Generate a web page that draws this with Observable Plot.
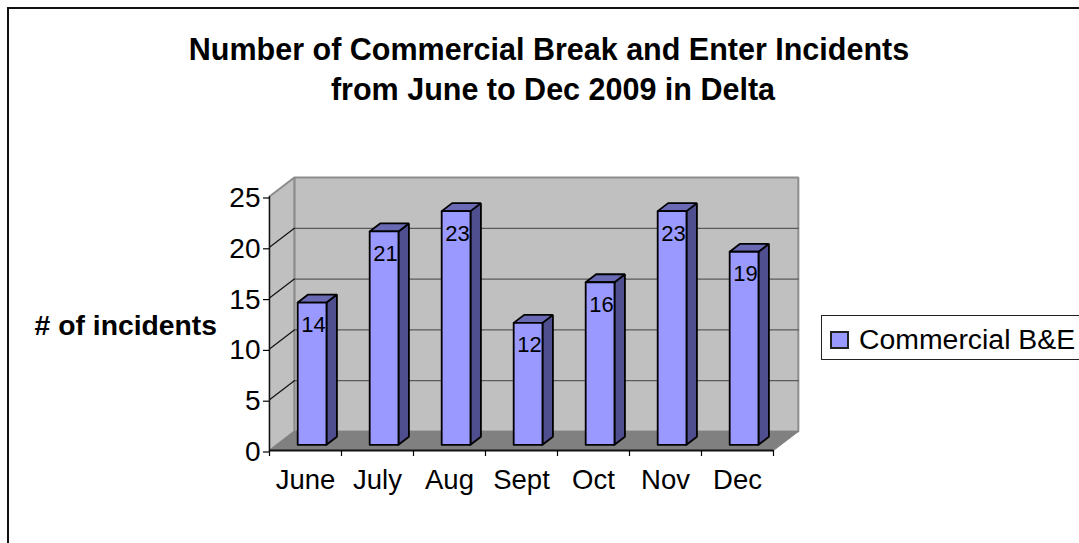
<!DOCTYPE html>
<html>
<head>
<meta charset="utf-8">
<script src="https://cdn.jsdelivr.net/npm/d3@7"></script>
<script src="https://cdn.jsdelivr.net/npm/@observablehq/plot@0.6"></script>
<style>
  html, body { margin: 0; padding: 0; background: #fff; overflow: hidden; }
  body { width: 1079px; height: 543px; font-family: "Liberation Sans", Arial, sans-serif; color: #000; }
  #frame { position: absolute; left: 7px; top: 7px; width: 1072px; height: 536px;
           border-left: 2px solid #111; border-top: 2px solid #111; box-sizing: border-box; }
  #title { position: absolute; left: 0; top: 29px; width: 1098px; text-align: center;
           font-weight: bold; font-size: 30.5px; line-height: 40px; }
  #title span { position: relative; left: 4px; }
  #chart { position: absolute; left: 0; top: 130px; }
  #legend { position: absolute; left: 821px; top: 315px; width: 270px; height: 45px; box-sizing: border-box;
            border: 1px solid #222; background: #fff; }
  #legend i { position: absolute; left: 8px; top: 15px; width: 19px; height: 18px; box-sizing: border-box;
              background: #9999ff; border: 2px solid #222; }
  #legend span { position: absolute; left: 37px; top: 7px; font-size: 28.4px; line-height: 32px; white-space: nowrap; }
</style>
</head>
<body>
<div id="frame"></div>
<div id="title">Number of Commercial Break and Enter Incidents<br><span>from June to Dec 2009 in Delta</span></div>
<div id="chart"></div>
<div id="legend"><i></i><span>Commercial B&amp;E</span></div>
<script>
const categories = ["June", "July", "Aug", "Sept", "Oct", "Nov", "Dec"];
const incidents = [14, 21, 23, 12, 16, 23, 19];
const yTicks = [0, 5, 10, 15, 20, 25];
const seriesName = "Commercial B&E";
const yTitle = "# of incidents";

const depthX = 0.345;   // category units per unit of depth
const depthY = 1.87;    // value units per unit of depth
const barNear = 0.3, barFar = 0.72, barHalf = 0.2, barShift = -0.012;
const yMax = 25;
const n = categories.length;

const pt = (x, v, d) => ({x: x + d * depthX, y: v + d * depthY});
const shape = (id, corners) =>
  [...corners, corners[0]].map(([x, v, d]) => ({id, ...pt(x, v, d)}));

const wallBack = shape("back", [[0, 0, 1], [n, 0, 1], [n, yMax, 1], [0, yMax, 1]]);
const wallLeft = shape("left", [[0, 0, 0], [0, 0, 1], [0, yMax, 1], [0, yMax, 0]]);
const floor = shape("floor", [[0, 0, 0], [n, 0, 0], [n, 0, 1], [0, 0, 1]]);

const gridBack = yTicks.slice(1, -1).flatMap(v =>
  [[0, 1], [n, 1]].map(([x, d]) => ({id: v, ...pt(x, v, d)})));
const gridLeft = yTicks.slice(1, -1).flatMap(v =>
  [0, 1].map(d => ({id: v, ...pt(0, v, d)})));

const barFront = [], barSide = [], barTop = [], labels = [];
incidents.forEach((v, i) => {
  const a = i + 0.5 + barShift - barHalf, b = i + 0.5 + barShift + barHalf;
  barFront.push(...shape(i, [[a, 0, barNear], [b, 0, barNear], [b, v, barNear], [a, v, barNear]]));
  barSide.push(...shape(i, [[b, 0, barNear], [b, 0, barFar], [b, v, barFar], [b, v, barNear]]));
  barTop.push(...shape(i, [[a, v, barNear], [b, v, barNear], [b, v, barFar], [a, v, barFar]]));
  labels.push({...pt(i + 0.5 + barShift, v, barNear), text: String(v)});
});

const poly = (data, fill, stroke, strokeWidth) =>
  Plot.line(data, {x: "x", y: "y", z: "id", fill, stroke, strokeWidth, curve: "linear", strokeLinejoin: "miter"});

const chart = Plot.plot({
  width: 1079,
  height: 413,
  marginTop: 66,
  marginBottom: 93,
  marginLeft: 269,
  marginRight: 306,
  style: {fontFamily: '"Liberation Sans", Arial, sans-serif', background: "transparent", overflow: "visible"},
  x: {domain: [0, n], axis: null},
  y: {domain: [0, yMax], axis: null},
  marks: [
    poly(wallBack, "#c0c0c0", "#8c8c8c", 2),
    poly(wallLeft, "#c0c0c0", "#8c8c8c", 2),
    poly(floor, "#808080", "#808080", 1),
    Plot.line(gridBack, {x: "x", y: "y", z: "id", stroke: "#5a5a5a", strokeWidth: 1.3}),
    Plot.line(gridLeft, {x: "x", y: "y", z: "id", stroke: "#111", strokeWidth: 1.2}),
    poly(barSide, "#4f4f8f", "#000", 1.8),
    poly(barTop, "#6a6ab4", "#000", 1.8),
    poly(barFront, "#9999ff", "#000", 1.8),
    Plot.ruleX([0], {y1: 0, y2: yMax, stroke: "#111", strokeWidth: 1.2}),
    Plot.ruleY([0], {x1: 0, x2: n, stroke: "#111", strokeWidth: 2}),
    Plot.axisY({
      ticks: yTicks, tickSize: 6, tickPadding: 3, fontSize: 28, dy: 1.5, label: null, color: "#000", strokeWidth: 1.2
    }),
    Plot.axisX({
      ticks: d3.range(n + 1), tickSize: 6, tickFormat: () => "", label: null, strokeWidth: 1.2, color: "#000"
    }),
    Plot.axisX({
      ticks: categories.map((_, i) => i + 0.5), tickSize: 0, tickPadding: 19,
      tickFormat: t => categories[t - 0.5], fontSize: 27.5, label: null, color: "#000"
    }),
    Plot.text(labels, {
      x: "x", y: "y", text: "text", dy: 22.5, dx: 1.5, fontSize: 22, fill: "#000"
    }),
    Plot.text([yTitle], {
      x: 0, y: yMax / 2, text: d => d, textAnchor: "end", dx: -52.5, dy: 2, fontSize: 28.3, fontWeight: "bold", fill: "#000"
    })
  ]
});
document.getElementById("chart").append(chart);
</script>
</body>
</html>
